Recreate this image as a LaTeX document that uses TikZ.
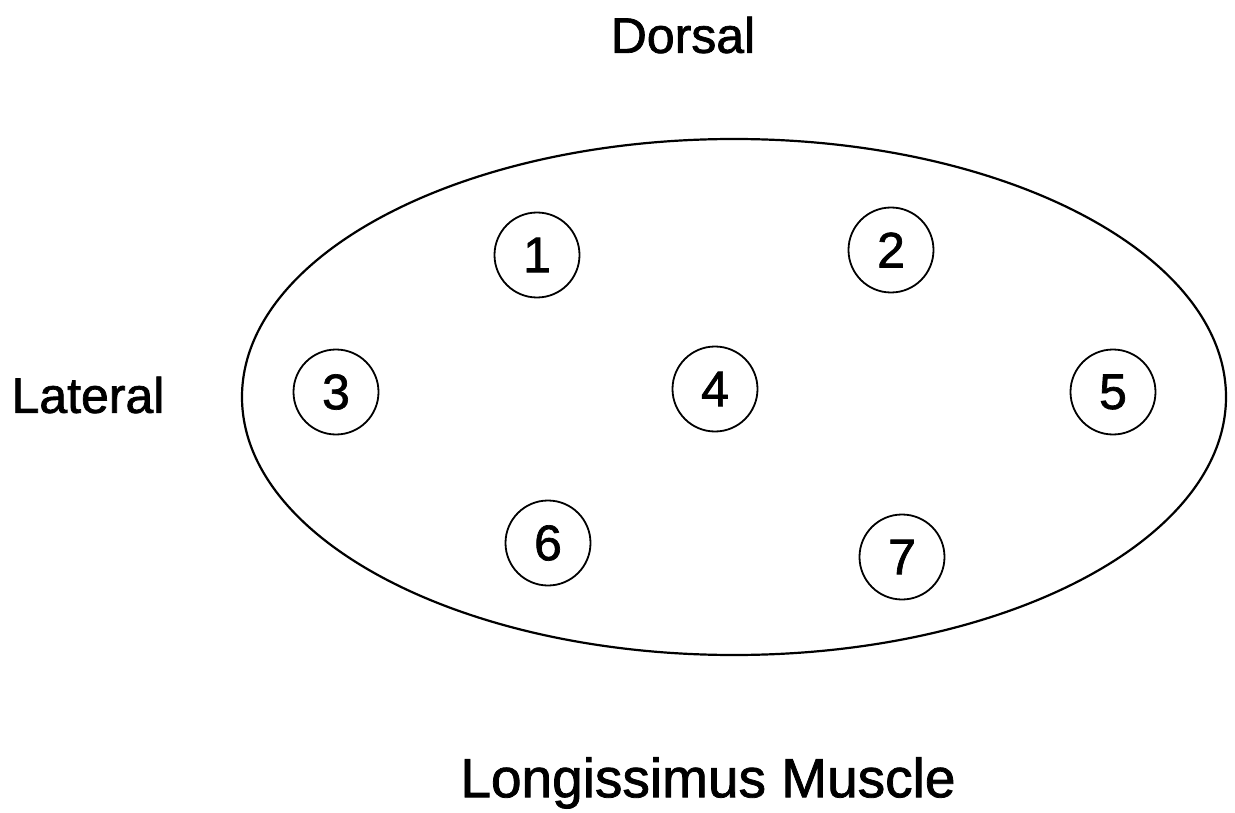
\documentclass[tikz,border=0pt]{standalone}
\usepackage{fontspec}
\setmainfont{Liberation Sans}[BoldFont=Liberation Sans, BoldFeatures={FakeBold=1.4}]
\begin{document}
\begin{tikzpicture}[x=1pt,y=-1pt,
  numc/.style={draw, circle, line width=1.8pt, minimum size=85pt, inner sep=0pt, font=\fontsize{50}{58}\selectfont\bfseries},
  lab/.style={font=\fontsize{50}{60}\selectfont\bfseries, inner sep=0pt}]
\useasboundingbox (0,0) rectangle (1235,813);
\fill[white] (0,0) rectangle (1235,813);
\draw[line width=2.2pt] (734,397) ellipse [x radius=492, y radius=258];
\node[numc] (n1) at (537,255) {1};
\node[numc] (n2) at (891,250) {2};
\node[numc] (n3) at (336,392) {3};
\node[numc] (n4) at (715,389) {4};
\node[numc] (n5) at (1113,392) {5};
\node[numc] (n6) at (548,543) {6};
\node[numc] (n7) at (902,557) {7};
\node[lab] (dorsal) at (683,35) {Dorsal};
\node[lab] (lateral) at (88,395) {Lateral};
\node[lab, font=\fontsize{55}{66}\selectfont\bfseries] (title) at (708,783) {Longissimus Muscle};
\end{tikzpicture}
\end{document}
